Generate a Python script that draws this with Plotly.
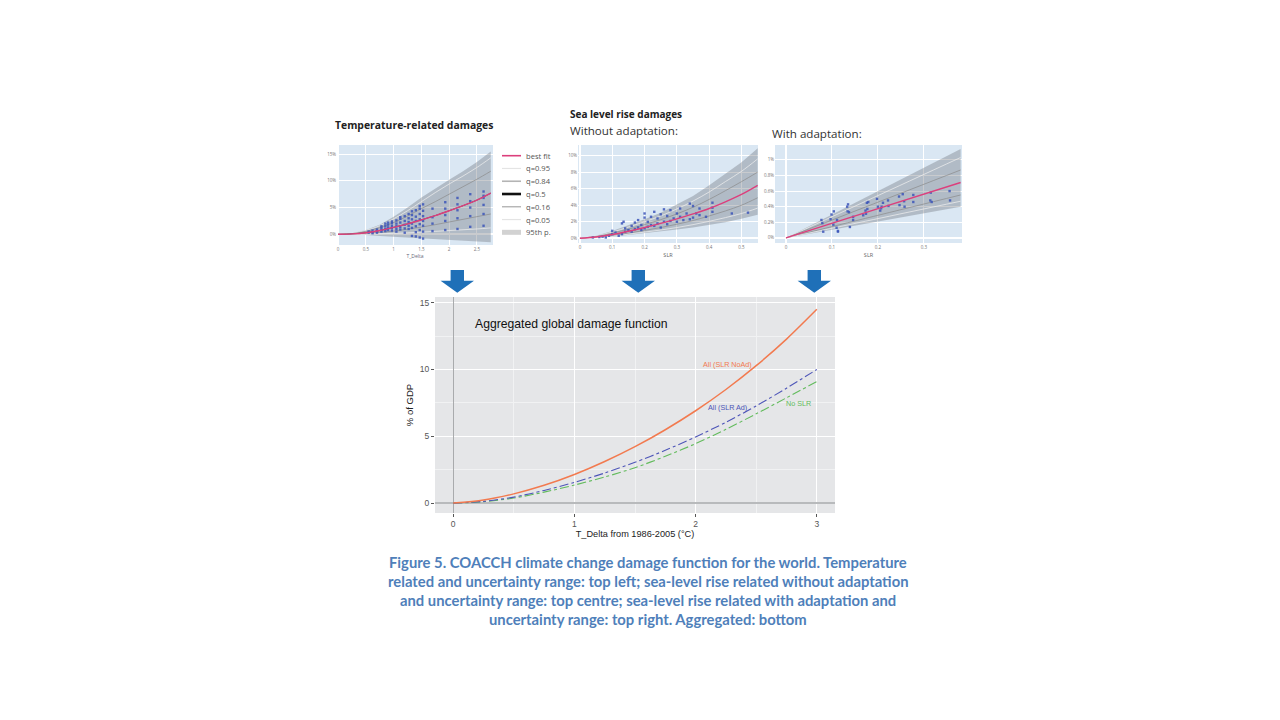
import plotly.graph_objects as go

# ---------------- data ----------------
# Top-left: temperature-related damages (% of GDP vs T_Delta)
tl_x = [0, 0.25, 0.5, 0.75, 1, 1.25, 1.5, 1.75, 2, 2.25, 2.5, 2.75]
tl_best = [0, 0.08, 0.3, 0.7, 1.3, 1.95, 2.7, 3.5, 4.4, 5.35, 6.4, 7.7]
tl_hi = [0, 0.2, 0.8, 1.8, 3.3, 5.0, 6.9, 8.6, 10.2, 11.8, 13.5, 15.5]
tl_q95 = [0, 0.18, 0.72, 1.6, 2.9, 4.4, 6.1, 7.8, 9.4, 10.9, 12.5, 14.3]
tl_q84 = [0, 0.14, 0.55, 1.25, 2.2, 3.4, 4.8, 6.1, 7.5, 8.9, 10.3, 11.8]
tl_q50 = [0, 0.08, 0.3, 0.7, 1.3, 1.95, 2.7, 3.5, 4.4, 5.35, 6.4, 7.7]
tl_q16 = [0, 0.04, 0.15, 0.35, 0.6, 0.95, 1.35, 1.8, 2.3, 2.8, 3.3, 3.8]
tl_q05 = [0, 0.01, 0.04, 0.1, 0.18, 0.28, 0.4, 0.55, 0.7, 0.85, 1.0, 1.2]
tl_lo = [0, -0.05, -0.15, -0.3, -0.45, -0.6, -0.75, -0.9, -1.05, -1.2, -1.35, -1.5]
tl_pts_x = [0.55, 0.55, 0.62, 0.62, 0.62, 0.7, 0.7, 0.7, 0.78, 0.78, 0.78, 0.78,
            0.85, 0.85, 0.85, 0.85, 0.9, 0.9, 0.9, 0.9, 0.97, 0.97, 0.97, 0.97, 0.97,
            1.05, 1.05, 1.05, 1.05, 1.05, 1.12, 1.12, 1.12, 1.12, 1.12,
            1.2, 1.2, 1.2, 1.2, 1.2, 1.27, 1.27, 1.27, 1.27, 1.27,
            1.33, 1.33, 1.33, 1.33, 1.33, 1.33, 1.4, 1.4, 1.4, 1.4, 1.4, 1.4,
            1.47, 1.47, 1.47, 1.47, 1.47, 1.47, 1.47, 1.53, 1.53, 1.53, 1.53, 1.53, 1.53, 1.53,
            1.7, 1.7, 1.7, 1.7, 1.93, 1.93, 1.93, 1.93, 1.93,
            2.15, 2.15, 2.15, 2.15, 2.15, 2.38, 2.38, 2.38, 2.38, 2.38,
            2.62, 2.62, 2.62, 2.62, 2.62, 2.62]
tl_pts_y = [0.3, 0.5, 0.2, 0.4, 0.7, 0.3, 0.6, 0.9, 0.5, 0.8, 1.2, 1.5,
            0.6, 1.0, 1.5, 2.0, 0.8, 1.3, 1.8, 2.2, 0.7, 1.2, 1.6, 2.1, 2.4,
            0.5, 1.0, 1.5, 2.0, 2.6, 0.9, 1.4, 2.2, 2.9, 3.2,
            0.3, 1.1, 1.8, 2.5, 3.4, 1.0, 1.6, 2.3, 3.0, 3.8,
            -0.3, 1.2, 2.0, 2.8, 3.6, 4.3, 0.4, 1.5, 2.5, 3.3, 4.5, -0.4,
            -0.6, 0.8, 1.9, 2.8, 3.8, 4.8, 5.3, -0.8, 0.5, 1.6, 2.5, 3.4, 4.4, 5.6,
            0.6, 2.0, 3.2, 4.8, 0.8, 2.5, 3.6, 4.8, 6.0,
            1.0, 3.0, 4.5, 5.6, 6.8, 1.4, 3.4, 5.0, 6.2, 7.5,
            1.6, 3.8, 5.5, 6.8, 8.0, 7.2]

# Top-centre: sea level rise damages without adaptation (% of GDP vs SLR)
tc_x = [0, 0.05, 0.1, 0.15, 0.2, 0.25, 0.3, 0.35, 0.4, 0.45, 0.5, 0.55]
tc_best = [0, 0.15, 0.45, 0.85, 1.3, 1.8, 2.35, 2.95, 3.6, 4.4, 5.3, 6.4]
tc_hi = [0, 0.32, 0.88, 1.55, 2.3, 3.1, 4.05, 5.1, 6.4, 7.75, 9.2, 10.9]
tc_q95 = [0, 0.27, 0.75, 1.35, 2.0, 2.7, 3.55, 4.5, 5.6, 6.85, 8.1, 9.6]
tc_q84 = [0, 0.22, 0.62, 1.1, 1.65, 2.25, 2.95, 3.75, 4.7, 5.75, 6.85, 8.0]
tc_q16 = [0, 0.1, 0.32, 0.62, 0.95, 1.3, 1.7, 2.15, 2.7, 3.3, 4.0, 4.9]
tc_q05 = [0, 0.07, 0.25, 0.5, 0.75, 1.0, 1.3, 1.65, 2.05, 2.5, 3.0, 3.65]
tc_lo = [0, 0.05, 0.2, 0.4, 0.6, 0.8, 1.05, 1.3, 1.6, 1.95, 2.35, 2.85]
tc_pts_x = [0.04, 0.06, 0.07, 0.08, 0.09, 0.1, 0.1, 0.11, 0.12, 0.13, 0.13, 0.135,
            0.14, 0.14, 0.15, 0.16, 0.16, 0.17, 0.17, 0.18, 0.18, 0.19, 0.19, 0.2,
            0.2, 0.2, 0.21, 0.21, 0.22, 0.22, 0.23, 0.23, 0.24, 0.24, 0.25, 0.25,
            0.26, 0.26, 0.27, 0.27, 0.28, 0.28, 0.29, 0.3, 0.3, 0.31, 0.31, 0.32,
            0.33, 0.34, 0.34, 0.35, 0.35, 0.36, 0.37, 0.37, 0.39, 0.41, 0.41, 0.41,
            0.47, 0.52]
tc_pts_y = [0.1, 0.15, 0.2, 0.1, 0.3, 0.5, 0.9, 0.7, 0.3, 0.5, 1.8, 2.0,
            0.8, 1.2, 1.0, 0.8, 1.5, 1.1, 1.9, 1.3, 2.2, 1.0, 1.6, 1.2,
            2.5, 3.0, 1.4, 2.0, 1.6, 2.6, 1.5, 3.2, 1.8, 2.4, 1.3, 2.9,
            3.5, 2.0, 1.7, 2.7, 3.4, 2.1, 2.4, 2.0, 3.0, 3.6, 2.6, 2.2,
            3.0, 2.3, 4.2, 2.5, 3.9, 3.0, 2.8, 3.6, 2.6, 3.2, 4.3, 3.7,
            3.0, 3.1]

# Top-right: sea level rise damages with adaptation
tr_x = [0, 0.19, 0.38]
tr_best = [0, 0.355, 0.71]
tr_hi = [0, 0.57, 1.14]
tr_q95 = [0, 0.515, 1.03]
tr_q84 = [0, 0.435, 0.87]
tr_q16 = [0, 0.275, 0.55]
tr_q05 = [0, 0.235, 0.47]
tr_lo = [0, 0.2, 0.40]
tr_pts_x = [0.077, 0.079, 0.081, 0.099, 0.097, 0.104, 0.103, 0.111, 0.113, 0.113, 0.11,
            0.133, 0.135, 0.134, 0.137, 0.139, 0.146, 0.146, 0.168, 0.173, 0.176, 0.179,
            0.174, 0.177, 0.198, 0.2, 0.205, 0.208, 0.211, 0.207, 0.222, 0.223, 0.246,
            0.247, 0.254, 0.257, 0.258, 0.277, 0.277, 0.315, 0.314, 0.317, 0.356, 0.357]
tr_pts_y = [0.23, 0.19, 0.08, 0.30, 0.24, 0.34, 0.17, 0.23, 0.09, 0.08, 0.13,
            0.40, 0.43, 0.34, 0.33, 0.14, 0.27, 0.23, 0.29, 0.35, 0.45, 0.46,
            0.31, 0.37, 0.50, 0.40, 0.35, 0.40, 0.45, 0.38, 0.48, 0.41, 0.53,
            0.42, 0.56, 0.47, 0.40, 0.55, 0.46, 0.58, 0.48, 0.46, 0.60, 0.48]

# Bottom: aggregated global damage function
agg_t = [0, 0.25, 0.5, 0.75, 1, 1.25, 1.5, 1.75, 2, 2.25, 2.5, 2.75, 3]
agg_noad = [0, 0.23, 0.69, 1.33, 2.14, 3.11, 4.22, 5.49, 6.91, 8.5, 10.28, 12.27, 14.5]
agg_ad = [0, 0.13, 0.45, 0.95, 1.55, 2.25, 3.05, 3.95, 4.95, 6.05, 7.27, 8.6, 10.0]
agg_noslr = [0, 0.1, 0.38, 0.82, 1.35, 1.95, 2.65, 3.5, 4.45, 5.52, 6.68, 7.88, 9.1]
agg_labels = ["All (SLR NoAd)", "All (SLR Ad)", "No SLR"]
agg_label_x = [2.26, 2.26, 2.85]
agg_label_y = [10.36, 7.18, 7.43]

legend_names = ["best fit", "q=0.95", "q=0.84", "q=0.5", "q=0.16", "q=0.05", "95th p."]

caption_lines = [
    "Figure 5. COACCH climate change damage function for the world. Temperature",
    "related and uncertainty range: top left; sea-level rise related without adaptation",
    "and uncertainty range: top centre; sea-level rise related with adaptation and",
    "uncertainty range: top right. Aggregated: bottom",
]

# ---------------- styles ----------------
PINK = "#dc3f7c"
PT = "rgba(60,85,185,0.85)"
FAN = "rgba(105,112,118,0.36)"
QLIGHT = "rgba(240,240,240,0.9)"
QGREY = "rgba(140,140,140,0.9)"
ORANGE = "#f27a4f"
BLUE = "#4d55b8"
GREEN = "#62bb5c"
ARROW = "#1f70b8"
CAPTION = "#4f7fba"
PANEL_BG = "#dae7f3"

W, H, OFF = 1264, 704, 8


def px(x):
    return (x - OFF) / W


def py(y):
    return 1 - (y - OFF) / H


fig = go.Figure()


def add_panel(xa, ya, x, lo, hi, q95, q84, q50, q16, q05, best, ptx, pty):
    fig.add_trace(go.Scatter(x=x, y=lo, xaxis=xa, yaxis=ya, mode="lines",
                             line=dict(width=0), showlegend=False, hoverinfo="skip"))
    fig.add_trace(go.Scatter(x=x, y=hi, xaxis=xa, yaxis=ya, mode="lines",
                             line=dict(width=0), fill="tonexty", fillcolor=FAN,
                             showlegend=False, hoverinfo="skip"))
    for q, c in [(q95, QLIGHT), (q84, QGREY), (q16, QGREY), (q05, QLIGHT)]:
        fig.add_trace(go.Scatter(x=x, y=q, xaxis=xa, yaxis=ya, mode="lines",
                                 line=dict(width=0.8, color=c, shape="spline"),
                                 showlegend=False))
    if q50 is not None:
        fig.add_trace(go.Scatter(x=x, y=q50, xaxis=xa, yaxis=ya, mode="lines",
                                 line=dict(width=0.8, color="#333", shape="spline"),
                                 showlegend=False))
    fig.add_trace(go.Scatter(x=ptx, y=pty, xaxis=xa, yaxis=ya, mode="markers",
                             marker=dict(symbol="square", size=2.4, color=PT),
                             showlegend=False))
    fig.add_trace(go.Scatter(x=x, y=best, xaxis=xa, yaxis=ya, mode="lines",
                             line=dict(width=1.4, color=PINK, shape="spline"),
                             showlegend=False))


add_panel("x", "y", tl_x, tl_lo, tl_hi, tl_q95, tl_q84, tl_q50, tl_q16, tl_q05,
          tl_best, tl_pts_x, tl_pts_y)
add_panel("x2", "y2", tc_x, tc_lo, tc_hi, tc_q95, tc_q84, None, tc_q16, tc_q05,
          tc_best, tc_pts_x, tc_pts_y)
add_panel("x3", "y3", tr_x, tr_lo, tr_hi, tr_q95, tr_q84, None, tr_q16, tr_q05,
          tr_best, tr_pts_x, tr_pts_y)

# bottom aggregated curves
for ys, c, d, w in [(agg_noslr, GREEN, "dashdot", 1.1), (agg_ad, BLUE, "dashdot", 1.1),
                    (agg_noad, ORANGE, "solid", 1.5)]:
    fig.add_trace(go.Scatter(x=agg_t, y=ys, xaxis="x4", yaxis="y4", mode="lines",
                             line=dict(color=c, width=w, dash=d, shape="spline", smoothing=0.8),
                             showlegend=False))

small_axis = dict(showgrid=True, gridcolor="white", gridwidth=0.8, zeroline=True,
                  zerolinecolor="white", zerolinewidth=1.5, showline=False,
                  ticks="", tickfont=dict(size=4.5, color="#777"), fixedrange=True)

layout = dict(
    width=W, height=H, margin=dict(l=0, r=0, t=0, b=0),
    paper_bgcolor="white", plot_bgcolor=PANEL_BG, showlegend=False,
    font=dict(family="Open Sans"),
    xaxis=dict(small_axis, domain=[px(337), px(493)], range=[-0.02, 2.79], anchor="y",
               dtick=0.5, title=dict(text="T_Delta", font=dict(size=5, color="#667"), standoff=3)),
    yaxis=dict(small_axis, domain=[py(245), py(145)], range=[-2.0, 16.7], anchor="x",
               dtick=5, ticksuffix="%"),
    xaxis2=dict(small_axis, domain=[px(578), px(758)], range=[-0.006, 0.551], anchor="y2",
                dtick=0.1, title=dict(text="SLR", font=dict(size=5.5, color="#666"), standoff=4)),
    yaxis2=dict(small_axis, domain=[py(243), py(145)], range=[-0.57, 11.28], anchor="x2",
                dtick=2, ticksuffix="%"),
    xaxis3=dict(small_axis, domain=[px(775), px(962)], range=[-0.024, 0.383], anchor="y3",
                dtick=0.1, title=dict(text="SLR", font=dict(size=5.5, color="#666"), standoff=4)),
    yaxis3=dict(small_axis, domain=[py(243), py(145)], range=[-0.065, 1.19], anchor="x3",
                dtick=0.2, ticksuffix="%"),
    xaxis4=dict(domain=[px(435), px(835)], range=[-0.15, 3.15], anchor="y4", dtick=1,
                showgrid=True, gridcolor="white", gridwidth=1,
                minor=dict(dtick=0.5, showgrid=True, gridcolor="#f1f2f3", gridwidth=0.5),
                zeroline=True, zerolinecolor="#a9abad", zerolinewidth=1.3,
                ticks="outside", ticklen=3, tickcolor="#555",
                tickfont=dict(family="Liberation Sans", size=8.5, color="#555"),
                title=dict(text="T_Delta from 1986-2005 (°C)", standoff=1,
                           font=dict(family="Liberation Sans", size=9.2, color="#222")),
                fixedrange=True),
    yaxis4=dict(domain=[py(513), py(297)], range=[-0.74, 15.42], anchor="x4", dtick=5,
                showgrid=True, gridcolor="white", gridwidth=1,
                minor=dict(dtick=2.5, showgrid=True, gridcolor="#f1f2f3", gridwidth=0.5),
                zeroline=True, zerolinecolor="#b8babc", zerolinewidth=2,
                ticks="outside", ticklen=3, tickcolor="#555",
                tickfont=dict(family="Liberation Sans", size=8.5, color="#555"),
                title=dict(text="% of GDP", standoff=4,
                           font=dict(family="Liberation Sans", size=9.5, color="#222")),
                fixedrange=True),
)
fig.update_layout(**layout)

# bottom panel background (ggplot grey) via shape under plot
fig.add_shape(type="rect", xref="x4 domain", yref="y4 domain", x0=0, x1=1, y0=0, y1=1,
              fillcolor="#e5e6e8", line=dict(width=0), layer="below")

annotations = []
# panel titles
annotations.append(dict(x=px(333), y=py(125), xref="paper", yref="paper", xanchor="left",
                        yanchor="middle", showarrow=False, text="<b>Temperature-related damages</b>",
                        font=dict(size=10.4, color="#222")))
annotations.append(dict(x=px(568), y=py(114), xref="paper", yref="paper", xanchor="left",
                        yanchor="middle", showarrow=False, text="<b>Sea level rise damages</b>",
                        font=dict(size=10, color="#222")))
annotations.append(dict(x=px(568), y=py(131), xref="paper", yref="paper", xanchor="left",
                        yanchor="middle", showarrow=False, text="Without adaptation:",
                        font=dict(size=11.6, color="#333")))
annotations.append(dict(x=px(770), y=py(134), xref="paper", yref="paper", xanchor="left",
                        yanchor="middle", showarrow=False, text="With adaptation:",
                        font=dict(size=11.6, color="#333")))

# manual legend for the temperature panel
leg_colors = [PINK, "#e4e4e4", "#b4b4b4", "#111111", "#a8a8a8", "#e4e4e4", "#d2d2d2"]
leg_widths = [1.6, 1.2, 1.6, 2.6, 1.2, 1.2, 5]
leg_y0, leg_dy = 155.7, 12.77
for i, name in enumerate(legend_names):
    yy = leg_y0 + i * leg_dy
    fig.add_shape(type="line", xref="paper", yref="paper", x0=px(502), x1=px(521),
                  y0=py(yy), y1=py(yy), line=dict(color=leg_colors[i], width=leg_widths[i]))
    annotations.append(dict(x=px(524), y=py(yy), xref="paper", yref="paper", xanchor="left",
                            yanchor="middle", showarrow=False, text=name,
                            font=dict(size=7.6, color="#555")))

# bottom panel title and curve labels
annotations.append(dict(x=0.16, y=13.42, xref="x4", yref="y4", xanchor="left", yanchor="middle",
                        showarrow=False, text="Aggregated global damage function",
                        font=dict(family="Liberation Sans", size=12.2, color="#111")))
for lab, lx, ly, c in zip(agg_labels, agg_label_x, agg_label_y, [ORANGE, BLUE, GREEN]):
    annotations.append(dict(x=lx, y=ly, xref="x4", yref="y4", xanchor="center",
                            yanchor="middle", showarrow=False, text=lab,
                            font=dict(family="Liberation Sans", size=7.2, color=c)))

# caption
cap_y0, cap_dy = 561.7, 19.2
for i, line in enumerate(caption_lines):
    annotations.append(dict(x=px(648), y=py(cap_y0 + i * cap_dy), xref="paper", yref="paper",
                            xanchor="center", yanchor="middle", showarrow=False,
                            text="<b>" + line + "</b>",
                            font=dict(family="Lato", size=14.8, color=CAPTION)))
fig.update_layout(annotations=annotations)

# blue arrows
arrow_centers = [457.3, 638.3, 814.3]
for cx in arrow_centers:
    pts = [(cx - 6.7, 270), (cx + 6.7, 270), (cx + 6.7, 280.7), (cx + 16.7, 280.7),
           (cx, 292.7), (cx - 16.7, 280.7), (cx - 6.7, 280.7)]
    path = "M " + " L ".join(f"{px(a):.5f},{py(b):.5f}" for a, b in pts) + " Z"
    fig.add_shape(type="path", xref="paper", yref="paper", path=path,
                  fillcolor=ARROW, line=dict(width=0))

fig.write_html("out.html")
